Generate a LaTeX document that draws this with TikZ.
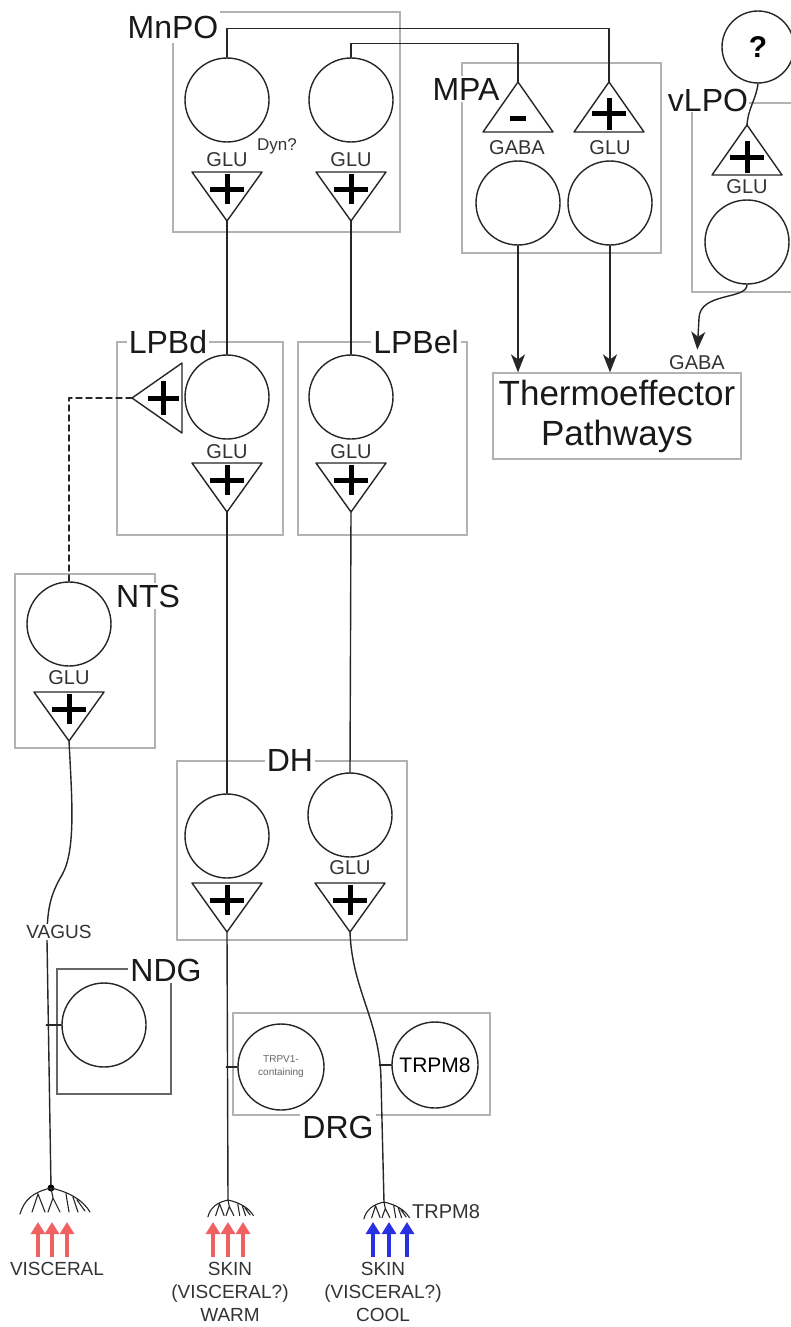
\documentclass[tikz,border=0pt]{standalone}
\usepackage{fontspec}
\setmainfont{Liberation Sans}
\usetikzlibrary{arrows.meta}
\definecolor{warmred}{HTML}{F06262}
\definecolor{coolblue}{HTML}{2830E0}

\begin{document}
\begin{tikzpicture}[x=1pt,y=-1pt]
\tikzset{
  cell/.style={circle,draw=black!85,line width=1.4pt,minimum size=84pt,inner sep=0pt,fill=white},
  region/.style={draw=black!30,line width=1.2pt},
  regionlabel/.style={fill=white,inner sep=2pt,text=black!90,font=\fontsize{32}{36}\selectfont},
  transmitter/.style={text=black!80,inner sep=0pt,font=\fontsize{20}{22}\selectfont},
  axon/.style={draw=black!85,line width=1.4pt,line cap=round,line join=round},
  output/.style={axon,-{Stealth[length=18pt,width=14pt,inset=5pt]}},
  sign/.style={draw=black,line width=5pt},
  stimulus/.style={line width=4.5pt,-{Triangle[length=12pt,width=14pt]}},
  stimlabel/.style={align=center,text=black!80,inner sep=0pt,font=\fontsize{19}{23}\selectfont},
  syndn/.pic={
    \draw[axon,fill=white] (-35,0) -- (35,0) -- (0,49) -- cycle;
    \draw[sign] (0,2) -- (0,32) (-17,17) -- (17,17);
    \coordinate (-tip) at (0,49);
  },
  synupplus/.pic={
    \draw[axon,fill=white] (0,0) -- (35,50) -- (-35,50) -- cycle;
    \draw[sign] (0,16) -- (0,48) (-17,32) -- (17,32);
    \coordinate (-tip) at (0,0);
  },
  synupminus/.pic={
    \draw[axon,fill=white] (0,0) -- (35,50) -- (-35,50) -- cycle;
    \draw[sign] (-8,37) -- (8,37);
    \coordinate (-tip) at (0,0);
  },
  synleft/.pic={
    \draw[axon,fill=white] (0,0) -- (50,-35) -- (50,35) -- cycle;
    \draw[sign] (16,0) -- (47,0) (31,-17) -- (31,17);
    \coordinate (-tip) at (0,0);
  },
  fan/.pic={
    \draw[axon,line width=1.1pt] (0,0) .. controls (-18,4) and (-27,12) .. (-31,26)
      (0,0) .. controls (18,4) and (32,12) .. (39,24)
      (-13,6) -- (-19,24) (-13,6) -- (-6,24)
      (0,0) -- (2,10) -- (-3,24) (2,10) -- (9,24)
      (15,6) -- (18,24) (22,9) -- (27,24) (26,12) -- (34,23);
  }
}
\useasboundingbox (0,0) rectangle (791,1327);
\draw[region] (173,12) rectangle (400,232);
\draw[region] (462,63) rectangle (661,253);
\draw[region] (800,103) -- (692,103) -- (692,292) -- (800,292);
\draw[region] (117,342) rectangle (283,535);
\draw[region] (298,342) rectangle (467,535);
\draw[region] (15,574) rectangle (155,748);
\draw[region] (177,761) rectangle (407,940);
\draw[region,draw=black!60] (57,969) rectangle (171,1094);
\draw[region] (233,1013) rectangle (490,1115);
\node[cell] (n_mn1) at (227,100) {};
\node[cell] (n_mn2) at (351,100) {};
\node[cell] (n_mpa1) at (518,203) {};
\node[cell] (n_mpa2) at (610,203) {};
\node[cell,minimum size=72pt,font=\fontsize{30}{30}\selectfont\bfseries] (n_q) at (758,47) {?};
\node[cell] (n_vlpo) at (747,242) {};
\node[cell] (n_lpbd) at (227,397) {};
\node[cell] (n_lpbel) at (351,397) {};
\node[cell] (n_nts) at (69,624) {};
\node[cell] (n_dh1) at (227,836) {};
\node[cell] (n_dh2) at (350,815) {};
\node[cell] (n_ndg) at (104,1025) {};
\node[cell,minimum size=86pt,align=center,text=black!60,font=\fontsize{10}{13}\selectfont] (n_trpv) at (281,1067) {TRPV1-\\containing};
\node[cell,minimum size=86pt,font=\fontsize{21}{21}\selectfont] (n_trpm) at (435,1065) {TRPM8};
\node[draw=black!30,line width=1.2pt,minimum width=248pt,minimum height=86pt,align=center,text=black!90,font=\fontsize{35}{40}\selectfont] (n_thermo) at (617,416) {Thermoeffector\\Pathways};
\pic (mnA) at (227,172) {syndn};
\pic (mnB) at (351,172) {syndn};
\pic (mpaA) at (518,82) {synupminus};
\pic (mpaB) at (609,82) {synupplus};
\pic (vlA) at (747,125) {synupplus};
\pic (lpbdA) at (227,463) {syndn};
\pic (lpbelA) at (351,463) {syndn};
\pic (lpbL) at (132,398) {synleft};
\pic (ntsA) at (69,692) {syndn};
\pic (dhA) at (227,883) {syndn};
\pic (dhB) at (350,883) {syndn};
\node[transmitter] (n_g1) at (227,160) {GLU};
\node[transmitter] (n_g2) at (351,160) {GLU};
\node[transmitter,font=\fontsize{17}{19}\selectfont] (n_dyn) at (277,146) {Dyn?};
\node[transmitter] (n_g3) at (517,148) {GABA};
\node[transmitter] (n_g4) at (610,148) {GLU};
\node[transmitter] (n_g5) at (747,187) {GLU};
\node[transmitter] (n_g6) at (227,452) {GLU};
\node[transmitter] (n_g7) at (351,452) {GLU};
\node[transmitter] (n_g8) at (69,678) {GLU};
\node[transmitter] (n_g9) at (350,868) {GLU};
\node[transmitter] (n_gaba) at (697,363) {GABA};
\coordinate (n_vt) at (51,1188);
\coordinate (n_wt) at (228,1200);
\coordinate (n_ct) at (384,1202);
\draw[axon] (n_mn1.north) -- ++(0,-29) -| (mpaB-tip);
\draw[axon] (n_mn2.north) -- ++(0,-14) -| (mpaA-tip);
\draw[axon] (mnA-tip) -- (n_lpbd.north);
\draw[axon] (mnB-tip) -- (n_lpbel.north);
\draw[axon] (lpbdA-tip) -- (n_dh1.north);
\draw[axon] (lpbelA-tip) -- (n_dh2.north);
\draw[axon,dash pattern=on 6pt off 4pt] (lpbL-tip) -| (n_nts.north);
\draw[output] (n_mpa1.south) -- (n_mpa1.south |- n_thermo.north);
\draw[output] (n_mpa2.south) -- (n_mpa2.south |- n_thermo.north);
\draw[axon] (n_q.south) .. controls (756,100) and (748,108) .. (vlA-tip);
\draw[output,shorten >=6pt] (n_vlpo.south) .. controls (747,300) and (700,292) .. (699,318) -- (n_gaba.north);
\draw[axon] (ntsA-tip) .. controls (72,800) and (76,850) .. (62,875) .. controls (50,895) and (47,910) .. (47,940) -- (n_vt);
\draw[axon] (n_ndg.west) -- ++(-15,0);
\draw[axon] (dhA-tip) -- (n_wt);
\draw[axon] (n_trpv.west) -- ++(-11,0);
\draw[axon] (dhB-tip) .. controls (352,990) and (380,1020) .. (381,1080) -- (n_ct);
\draw[axon] (n_trpm.west) -- ++(-12,0);
\fill[black] (n_vt) circle (3.5);
\pic at (n_vt) {fan};
\pic[scale=0.65] at (n_wt) {fan};
\pic[scale=0.65] at (n_ct) {fan};
\draw[stimulus,draw=warmred] (38,1257) -- (38,1222);
\draw[stimulus,draw=warmred] (52,1257) -- (52,1222);
\draw[stimulus,draw=warmred] (67,1257) -- (67,1222);
\draw[stimulus,draw=warmred] (213,1257) -- (213,1222);
\draw[stimulus,draw=warmred] (228,1257) -- (228,1222);
\draw[stimulus,draw=warmred] (243,1257) -- (243,1222);
\draw[stimulus,draw=coolblue] (373,1257) -- (373,1222);
\draw[stimulus,draw=coolblue] (389,1257) -- (389,1222);
\draw[stimulus,draw=coolblue] (407,1257) -- (407,1222);
\node[stimlabel,fill=white,inner sep=1pt] (n_vagus) at (59,932) {VAGUS};
\node[stimlabel] (n_visc) at (57,1269) {VISCERAL};
\node[stimlabel] (n_warm) at (230,1292) {SKIN\\(VISCERAL?)\\WARM};
\node[stimlabel] (n_cool) at (383,1292) {SKIN\\(VISCERAL?)\\COOL};
\node[stimlabel,anchor=west,font=\fontsize{20}{22}\selectfont] (n_trplab) at (412,1212) {TRPM8};
\node[regionlabel,inner ysep=5pt] (n_mnpo) at (173,27) {MnPO};
\node[regionlabel] (n_mpa) at (466,89) {MPA};
\node[regionlabel,inner sep=1pt] (n_vlpol) at (708,100) {vLPO};
\node[regionlabel] (n_lpbdl) at (168,342) {LPBd};
\node[regionlabel] (n_lpbell) at (416,342) {LPBel};
\node[regionlabel] (n_ntsl) at (148,596) {NTS};
\node[regionlabel] (n_dhl) at (290,760) {DH};
\node[regionlabel] (n_ndgl) at (166,970) {NDG};
\node[regionlabel] (n_drgl) at (338,1127) {DRG};
\end{tikzpicture}
\end{document}
